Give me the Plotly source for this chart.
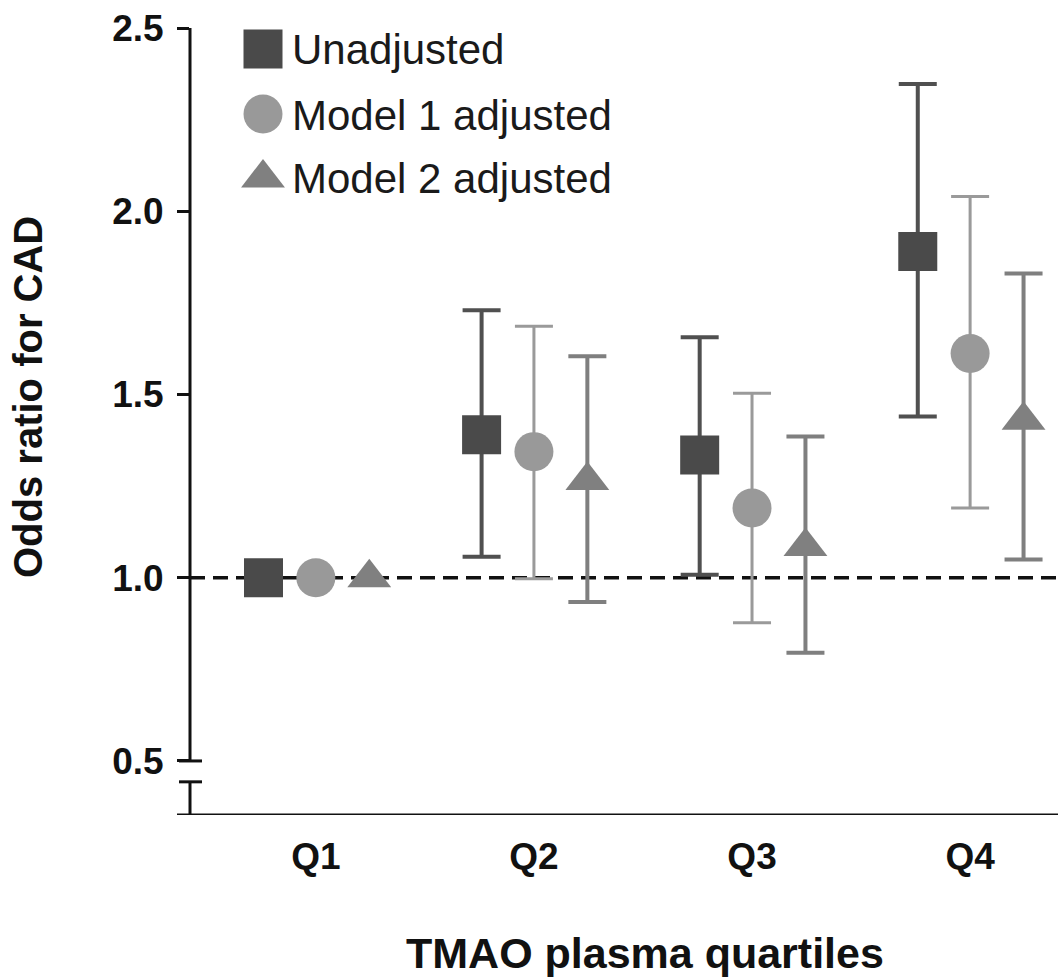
import plotly.graph_objects as go

# ---------------- data ----------------
categories = ["Q1", "Q2", "Q3", "Q4"]
x_pos = [1, 2, 3, 4]

unadj = [1.0, 1.39, 1.335, 1.89]
unadj_lo = [1.0, 1.057, 1.008, 1.44]
unadj_hi = [1.0, 1.73, 1.656, 2.347]

m1 = [1.0, 1.344, 1.19, 1.612]
m1_lo = [1.0, 0.997, 0.877, 1.19]
m1_hi = [1.0, 1.686, 1.503, 2.04]

m2 = [1.0, 1.265, 1.085, 1.43]
m2_lo = [1.0, 0.934, 0.795, 1.05]
m2_hi = [1.0, 1.604, 1.385, 1.83]

y_ticks = [0.5, 1.0, 1.5, 2.0, 2.5]
legend_names = ["Unadjusted", "Model 1 adjusted", "Model 2 adjusted"]

# ---------------- layout geometry ----------------
W, H = 1058, 979
L, R, T, B = 190, 0, 28, 164
PW, PH = W - L - R, H - T - B


def px(xp):
    return (xp - L) / PW


def py(yp):
    return (H - B - yp) / PH


FONT = "Liberation Sans, Arial, sans-serif"
series = [
    dict(name=legend_names[0], y=unadj, lo=unadj_lo, hi=unadj_hi, off=-0.24,
         symbol="square", size=39, color="#4a4a4a", ecolor="#505050", eth=4),
    dict(name=legend_names[1], y=m1, lo=m1_lo, hi=m1_hi, off=0.0,
         symbol="circle", size=39, color="#999999", ecolor="#9a9a9a", eth=3),
    dict(name=legend_names[2], y=m2, lo=m2_lo, hi=m2_hi, off=0.245,
         symbol="triangle-up", size=38, color="#808080", ecolor="#7f7f7f", eth=4),
]

fig = go.Figure()

for s in series:
    xs = [x + s["off"] for x in x_pos]
    idx = [i for i in range(len(xs)) if s["hi"][i] > s["lo"][i]]
    fig.add_trace(go.Scatter(
        x=[xs[i] for i in idx], y=[s["y"][i] for i in idx],
        mode="markers", showlegend=False,
        marker=dict(symbol=s["symbol"], size=s["size"], color=s["color"],
                    line=dict(width=0)),
        error_y=dict(type="data", symmetric=False,
                     array=[s["hi"][i] - s["y"][i] for i in idx],
                     arrayminus=[s["y"][i] - s["lo"][i] for i in idx],
                     color=s["ecolor"], thickness=s["eth"], width=19),
    ))
    idx0 = [i for i in range(len(xs)) if not s["hi"][i] > s["lo"][i]]
    fig.add_trace(go.Scatter(
        x=[xs[i] for i in idx0], y=[s["y"][i] for i in idx0],
        mode="markers", showlegend=False,
        marker=dict(symbol=s["symbol"], size=s["size"], color=s["color"],
                    line=dict(width=0)),
    ))

# ---------------- custom legend on pixel-like overlay axes ----------------
leg_y = [49, 114, 178]
for s, ly in zip(series, leg_y):
    fig.add_trace(go.Scatter(
        x=[263], y=[ly], xaxis="x2", yaxis="y2", mode="markers",
        showlegend=False, hoverinfo="skip",
        marker=dict(symbol=s["symbol"], size=s["size"], color=s["color"],
                    line=dict(width=0)),
    ))
    fig.add_annotation(x=px(290), y=py(ly + 1), xref="paper", yref="paper",
                       text=s["name"], showarrow=False,
                       xanchor="left", yanchor="middle",
                       font=dict(family=FONT, size=42, color="#1a1a1a"))

# ---------------- axes decorations ----------------
ax_col = "#111111"
y_bottom = 0.3525
y_break = 0.443
shapes = [
    dict(type="line", xref="paper", yref="y", x0=0, x1=1, y0=1.0, y1=1.0,
         line=dict(color="#111111", width=3.5, dash="15px,8px"), layer="below"),
    dict(type="line", xref="paper", yref="y", x0=0, x1=0, y0=0.5, y1=2.5,
         line=dict(color=ax_col, width=3)),
    dict(type="line", xref="paper", yref="y", x0=0, x1=0, y0=y_bottom, y1=y_break,
         line=dict(color=ax_col, width=3)),
    dict(type="line", xref="paper", yref="y", x0=px(179), x1=px(202), y0=0.5, y1=0.5,
         line=dict(color=ax_col, width=3)),
    dict(type="line", xref="paper", yref="y", x0=px(179), x1=px(202),
         y0=y_break, y1=y_break, line=dict(color=ax_col, width=3)),
    dict(type="line", xref="paper", yref="y", x0=px(177), x1=1, y0=y_bottom, y1=y_bottom,
         line=dict(color=ax_col, width=3)),
]

fig.add_annotation(x=px(645), y=py(953), xref="paper", yref="paper",
                   text="TMAO plasma quartiles", showarrow=False,
                   xanchor="center", yanchor="middle",
                   font=dict(family=FONT, size=43, color="#111111", weight="bold"))
fig.add_annotation(x=px(28), y=py(397), xref="paper", yref="paper",
                   text="Odds ratio for CAD", showarrow=False,
                   xanchor="center", yanchor="middle", textangle=-90,
                   font=dict(family=FONT, size=40, color="#111111", weight="bold"))

fig.update_layout(
    width=W, height=H,
    margin=dict(l=L, r=R, t=T, b=B),
    paper_bgcolor="white", plot_bgcolor="white",
    showlegend=False,
    shapes=shapes,
    xaxis=dict(range=[0.423, 4.403], tickvals=x_pos, ticktext=categories,
               showgrid=False, zeroline=False, showline=False, ticks="",
               tickfont=dict(family=FONT, size=37, color="#111111", weight="bold"),
               ticklabelstandoff=16),
    yaxis=dict(range=[y_bottom, 2.5], tickvals=y_ticks,
               ticktext=[f"{v:.1f}" for v in y_ticks],
               showgrid=False, zeroline=False, showline=False,
               ticks="outside", ticklen=12, tickwidth=3, tickcolor=ax_col,
               tickfont=dict(family=FONT, size=37, color="#111111", weight="bold"),
               ticklabelstandoff=6),
    xaxis2=dict(overlaying="x", range=[L, W], visible=False, fixedrange=True),
    yaxis2=dict(overlaying="y", range=[H - B, T], visible=False, fixedrange=True),
)

fig.write_html("out.html", config={"displayModeBar": False},
               post_script="document.body.style.margin='0px';")
